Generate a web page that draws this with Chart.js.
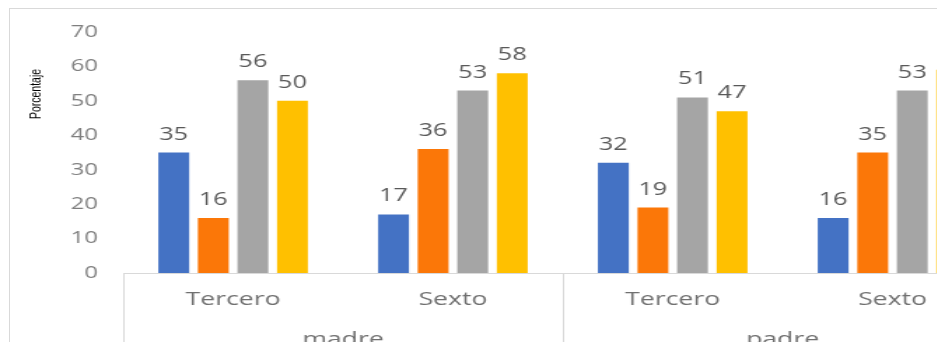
<!DOCTYPE html>
<html>

<head>
    <meta charset="utf-8">
    <title>Porcentaje madre / padre</title>
    <script src="https://cdn.jsdelivr.net/npm/chart.js@4.4.1/dist/chart.umd.min.js"></script>
    <style>
    html,
    body {
        margin: 0;
        padding: 0;
        background: #fff;
    }

    #wrap {
        position: relative;
        width: 937px;
        height: 342px;
        overflow: hidden;
    }

    #frame {
        position: absolute;
        left: 9px;
        top: 8px;
        width: 1000px;
        height: 400px;
        border-top: 1px solid #d9d9d9;
        border-left: 1px solid #d9d9d9;
    }

    /* the source picture is stretched sideways, so the canvas is too */
    #chart {
        position: absolute;
        left: 0;
        top: 0;
        transform: scaleX(1.4);
        transform-origin: 0 0;
    }
    </style>
</head>

<body>
    <div id="wrap">
        <div id="frame"></div>
        <canvas id="chart" width="730" height="360"></canvas>
    </div>
    <script>
    // data
    const categories = ['Tercero', 'Sexto', 'Tercero', 'Sexto'];
    const groups = ['madre', 'padre'];
    const yTicks = [0, 10, 20, 30, 40, 50, 60, 70];

    const serie1 = [35, 17, 32, 16];
    const serie2 = [16, 36, 19, 35];
    const serie3 = [56, 53, 51, 53];
    const serie4 = [50, 58, 47, 59];

    const colors = ['#4472C4', '#FB7708', '#A5A5A5', '#FFC000'];

    const font = '"Open Sans", "DejaVu Sans", sans-serif';

    // numbers above the bars
    const valueLabels = {
        id: 'valueLabels',
        afterDatasetsDraw(chart) {
            const ctx = chart.ctx;
            ctx.save();
            ctx.font = '18px ' + font;
            ctx.fillStyle = '#595959';
            ctx.textAlign = 'center';
            ctx.textBaseline = 'alphabetic';
            chart.data.datasets.forEach((ds, i) => {
                chart.getDatasetMeta(i).data.forEach((bar, j) => {
                    ctx.fillText(ds.data[j], bar.x, bar.y - 13);
                });
            });
            ctx.restore();
        }
    };

    // group separators under the axis + y title
    const extras = {
        id: 'extras',
        afterDraw(chart) {
            const ctx = chart.ctx;
            const x = chart.scales.x;
            const catW = (x.right - x.left) / categories.length;
            const per = categories.length / groups.length;
            ctx.save();
            ctx.strokeStyle = '#d9d9d9';
            ctx.lineWidth = 1;
            for (let k = 0; k <= groups.length; k++) {
                const px = Math.round(x.left + k * per * catW) + 0.5;
                ctx.beginPath();
                ctx.moveTo(px, x.top);
                ctx.lineTo(px, chart.height);
                ctx.stroke();
            }
            ctx.translate(26, 94);
            ctx.rotate(-Math.PI / 2);
            ctx.font = '10.5px "Liberation Sans", sans-serif';
            ctx.fillStyle = '#000';
            ctx.textAlign = 'center';
            ctx.textBaseline = 'middle';
            ctx.fillText('Porcentaje', 0, 0);
            ctx.restore();
        }
    };

    const ctx = document.getElementById('chart').getContext('2d');
    window.chart = new Chart(ctx, {
        type: 'bar',
        data: {
            labels: categories,
            datasets: [serie1, serie2, serie3, serie4].map((d, i) => ({
                label: 'Serie ' + (i + 1),
                data: d,
                backgroundColor: colors[i],
                barPercentage: 0.78,
                categoryPercentage: 0.72
            }))
        },
        options: {
            responsive: false,
            animation: false,
            events: [],
            layout: {
                padding: { top: 32, left: 0, right: 14, bottom: 0 }
            },
            plugins: {
                legend: { display: false },
                tooltip: { enabled: false }
            },
            scales: {
                y: {
                    min: 0,
                    max: 70,
                    afterBuildTicks: (s) => { s.ticks = yTicks.map(v => ({ value: v })); },
                    afterFit: (s) => { s.width = 88; },
                    grid: { display: false, drawTicks: false },
                    border: { display: false },
                    ticks: {
                        padding: 18,
                        color: '#7f7f7f',
                        font: { family: font, size: 17 }
                    }
                },
                x: {
                    afterFit: (s) => { s.height = 46; },
                    grid: { display: false, drawTicks: false },
                    border: { display: true, color: '#d9d9d9' },
                    ticks: {
                        padding: 15,
                        color: '#707070',
                        font: { family: font, size: 19 }
                    }
                },
                x2: {
                    type: 'category',
                    labels: groups,
                    position: 'bottom',
                    weight: 1,
                    offset: true,
                    afterFit: (s) => { s.height = 41; },
                    grid: { display: false, drawTicks: false },
                    border: { display: false },
                    ticks: {
                        padding: 9,
                        color: '#707070',
                        font: { family: font, size: 19 }
                    }
                }
            }
        },
        plugins: [valueLabels, extras]
    });
    </script>
</body>

</html>
